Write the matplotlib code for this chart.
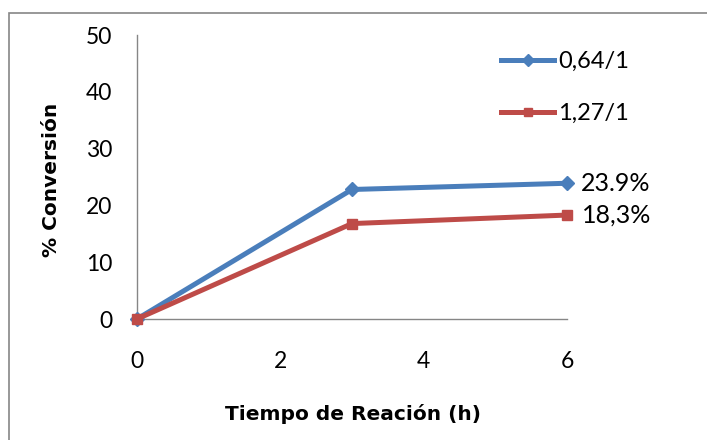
import matplotlib.pyplot as plt
from matplotlib.patches import Rectangle

# datos
tiempo = [0, 3, 6]
conv_064 = [0, 22.8, 23.9]
conv_127 = [0, 16.8, 18.3]
etiquetas = ['0,64/1', '1,27/1']
notas = ['23.9%', '18,3%']

plt.rcParams['font.family'] = ['Lato', 'DejaVu Sans']

azul = '#4A7EBB'
rojo = '#BE4B48'

fig = plt.figure(figsize=(7.07, 4.4), dpi=100)
ax = fig.add_axes([137 / 707, 121 / 440, 430 / 707, 284 / 440])

# borde del area del grafico
fig.patches.append(Rectangle((9 / 707, -0.1), 1.2, 1 - 13 / 440 + 0.1, transform=fig.transFigure,
                             fill=False, edgecolor='#868686', linewidth=1.2, zorder=0))

ax.plot(tiempo, conv_064, color=azul, lw=3.6, marker='D', ms=7, label=etiquetas[0], clip_on=False, zorder=3)
ax.plot(tiempo, conv_127, color=rojo, lw=3.6, marker='s', ms=6.5, label=etiquetas[1], clip_on=False, zorder=4)

ax.set_xlim(0, 6)
ax.set_ylim(0, 50)
ax.set_xticks([0, 2, 4, 6])
ax.set_yticks([0, 10, 20, 30, 40, 50])
ax.tick_params(length=0, labelsize=16.5)
ax.tick_params(axis='x', pad=23)
ax.tick_params(axis='y', pad=18)

for s in ['top', 'right']:
    ax.spines[s].set_visible(False)
for s in ['left', 'bottom']:
    ax.spines[s].set_color('#868686')
    ax.spines[s].set_linewidth(1)

ax.set_xlabel('Tiempo de Reación (h)', family='DejaVu Sans', fontsize=14.5, fontweight='bold')
ax.set_ylabel('% Conversión', family='DejaVu Sans', fontsize=14.5, fontweight='bold')
ax.xaxis.set_label_coords((353 - 137) / 430, -(414 - 319) / 284)
ax.yaxis.set_label_coords(-(137 - 52) / 430, (319 - 180) / 284)
ax.xaxis.label.set_va('center')
ax.yaxis.label.set_va('center')

ax.annotate(notas[0], (tiempo[2], conv_064[2]), xytext=(10, 0), textcoords='offset points',
            fontsize=18, va='center', ha='left')
ax.annotate(notas[1], (tiempo[2], conv_127[2]), xytext=(11, 0), textcoords='offset points',
            fontsize=18, va='center', ha='left')

ax.legend(loc='upper left', bbox_to_anchor=(480 / 707, 1 - 30 / 440), bbox_transform=fig.transFigure,
          frameon=False, fontsize=17, handlelength=2.25, handletextpad=0.15, labelspacing=1.3,
          markerscale=0.85)

fig.savefig('out.png', dpi=100)
